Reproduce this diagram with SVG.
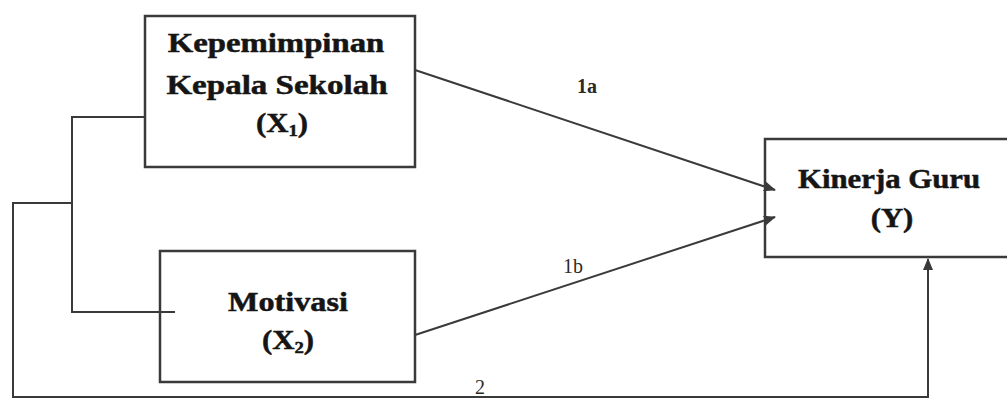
<svg xmlns="http://www.w3.org/2000/svg" width="1007" height="399" viewBox="0 0 1007 399">
  <style>
    .box { fill: #ffffff; stroke: #3a3a3a; stroke-width: 2.5; }
    .wire { fill: none; stroke: #3a3a3a; stroke-width: 2; }
    .title { font-family: "Liberation Serif", "Times New Roman", serif; font-weight: bold; font-size: 28px; fill: #151515; stroke: #151515; stroke-width: 0.5; text-anchor: middle; }
    .path-label { font-family: "Liberation Serif", "Times New Roman", serif; font-size: 20px; fill: #2a2a2a; }
  </style>
  <defs>
    <marker id="head" markerWidth="12" markerHeight="10" refX="11" refY="5" orient="auto" markerUnits="userSpaceOnUse">
      <path d="M0,0 L12,5 L0,10 Z" fill="#3a3a3a"/>
    </marker>
  </defs>

  <rect width="1007" height="399" fill="#ffffff"/>

  <!-- X1 -->
  <g id="node-x1">
    <rect class="box" x="145" y="16" width="270" height="151"/>
    <text class="title" transform="translate(276,52) scale(1.17,1)">Kepemimpinan</text>
    <text class="title" transform="translate(277,94) scale(1.18,1)">Kepala Sekolah</text>
    <text class="title" transform="translate(282,132) scale(1.1,1)">(X<tspan font-size="17" dy="4">1</tspan><tspan dy="-4">)</tspan></text>
  </g>

  <!-- X2 -->
  <g id="node-x2">
    <rect class="box" x="160" y="251" width="255" height="131"/>
    <text class="title" transform="translate(288,311) scale(1.15,1)">Motivasi</text>
    <text class="title" transform="translate(288,349) scale(1.1,1)">(X<tspan font-size="17" dy="4">2</tspan><tspan dy="-4">)</tspan></text>
  </g>

  <!-- Y -->
  <g id="node-y">
    <rect class="box" x="765" y="139" width="260" height="118"/>
    <text class="title" transform="translate(889,188) scale(1.1,1)">Kinerja Guru</text>
    <text class="title" transform="translate(892,227) scale(1.1,1)">(Y)</text>
  </g>

  <!-- connectors -->
  <g id="connectors">
    <!-- correlation bracket between X1 and X2 -->
    <polyline class="wire" points="145,117 72,117 72,312 175,312"/>
    <!-- path 1a: X1 -> Y -->
    <line class="wire" x1="415" y1="70" x2="775" y2="190" marker-end="url(#head)"/>
    <!-- path 1b: X2 -> Y -->
    <line class="wire" x1="415" y1="335" x2="775" y2="217" marker-end="url(#head)"/>
    <!-- path 2: joint effect X1, X2 -> Y -->
    <polyline class="wire" points="72,203 13,203 13,397 928,397 928,259" marker-end="url(#head)"/>
    <text class="path-label" x="577" y="93" font-weight="bold">1a</text>
    <text class="path-label" x="563" y="273">1b</text>
    <text class="path-label" x="475" y="394">2</text>
  </g>
</svg>
